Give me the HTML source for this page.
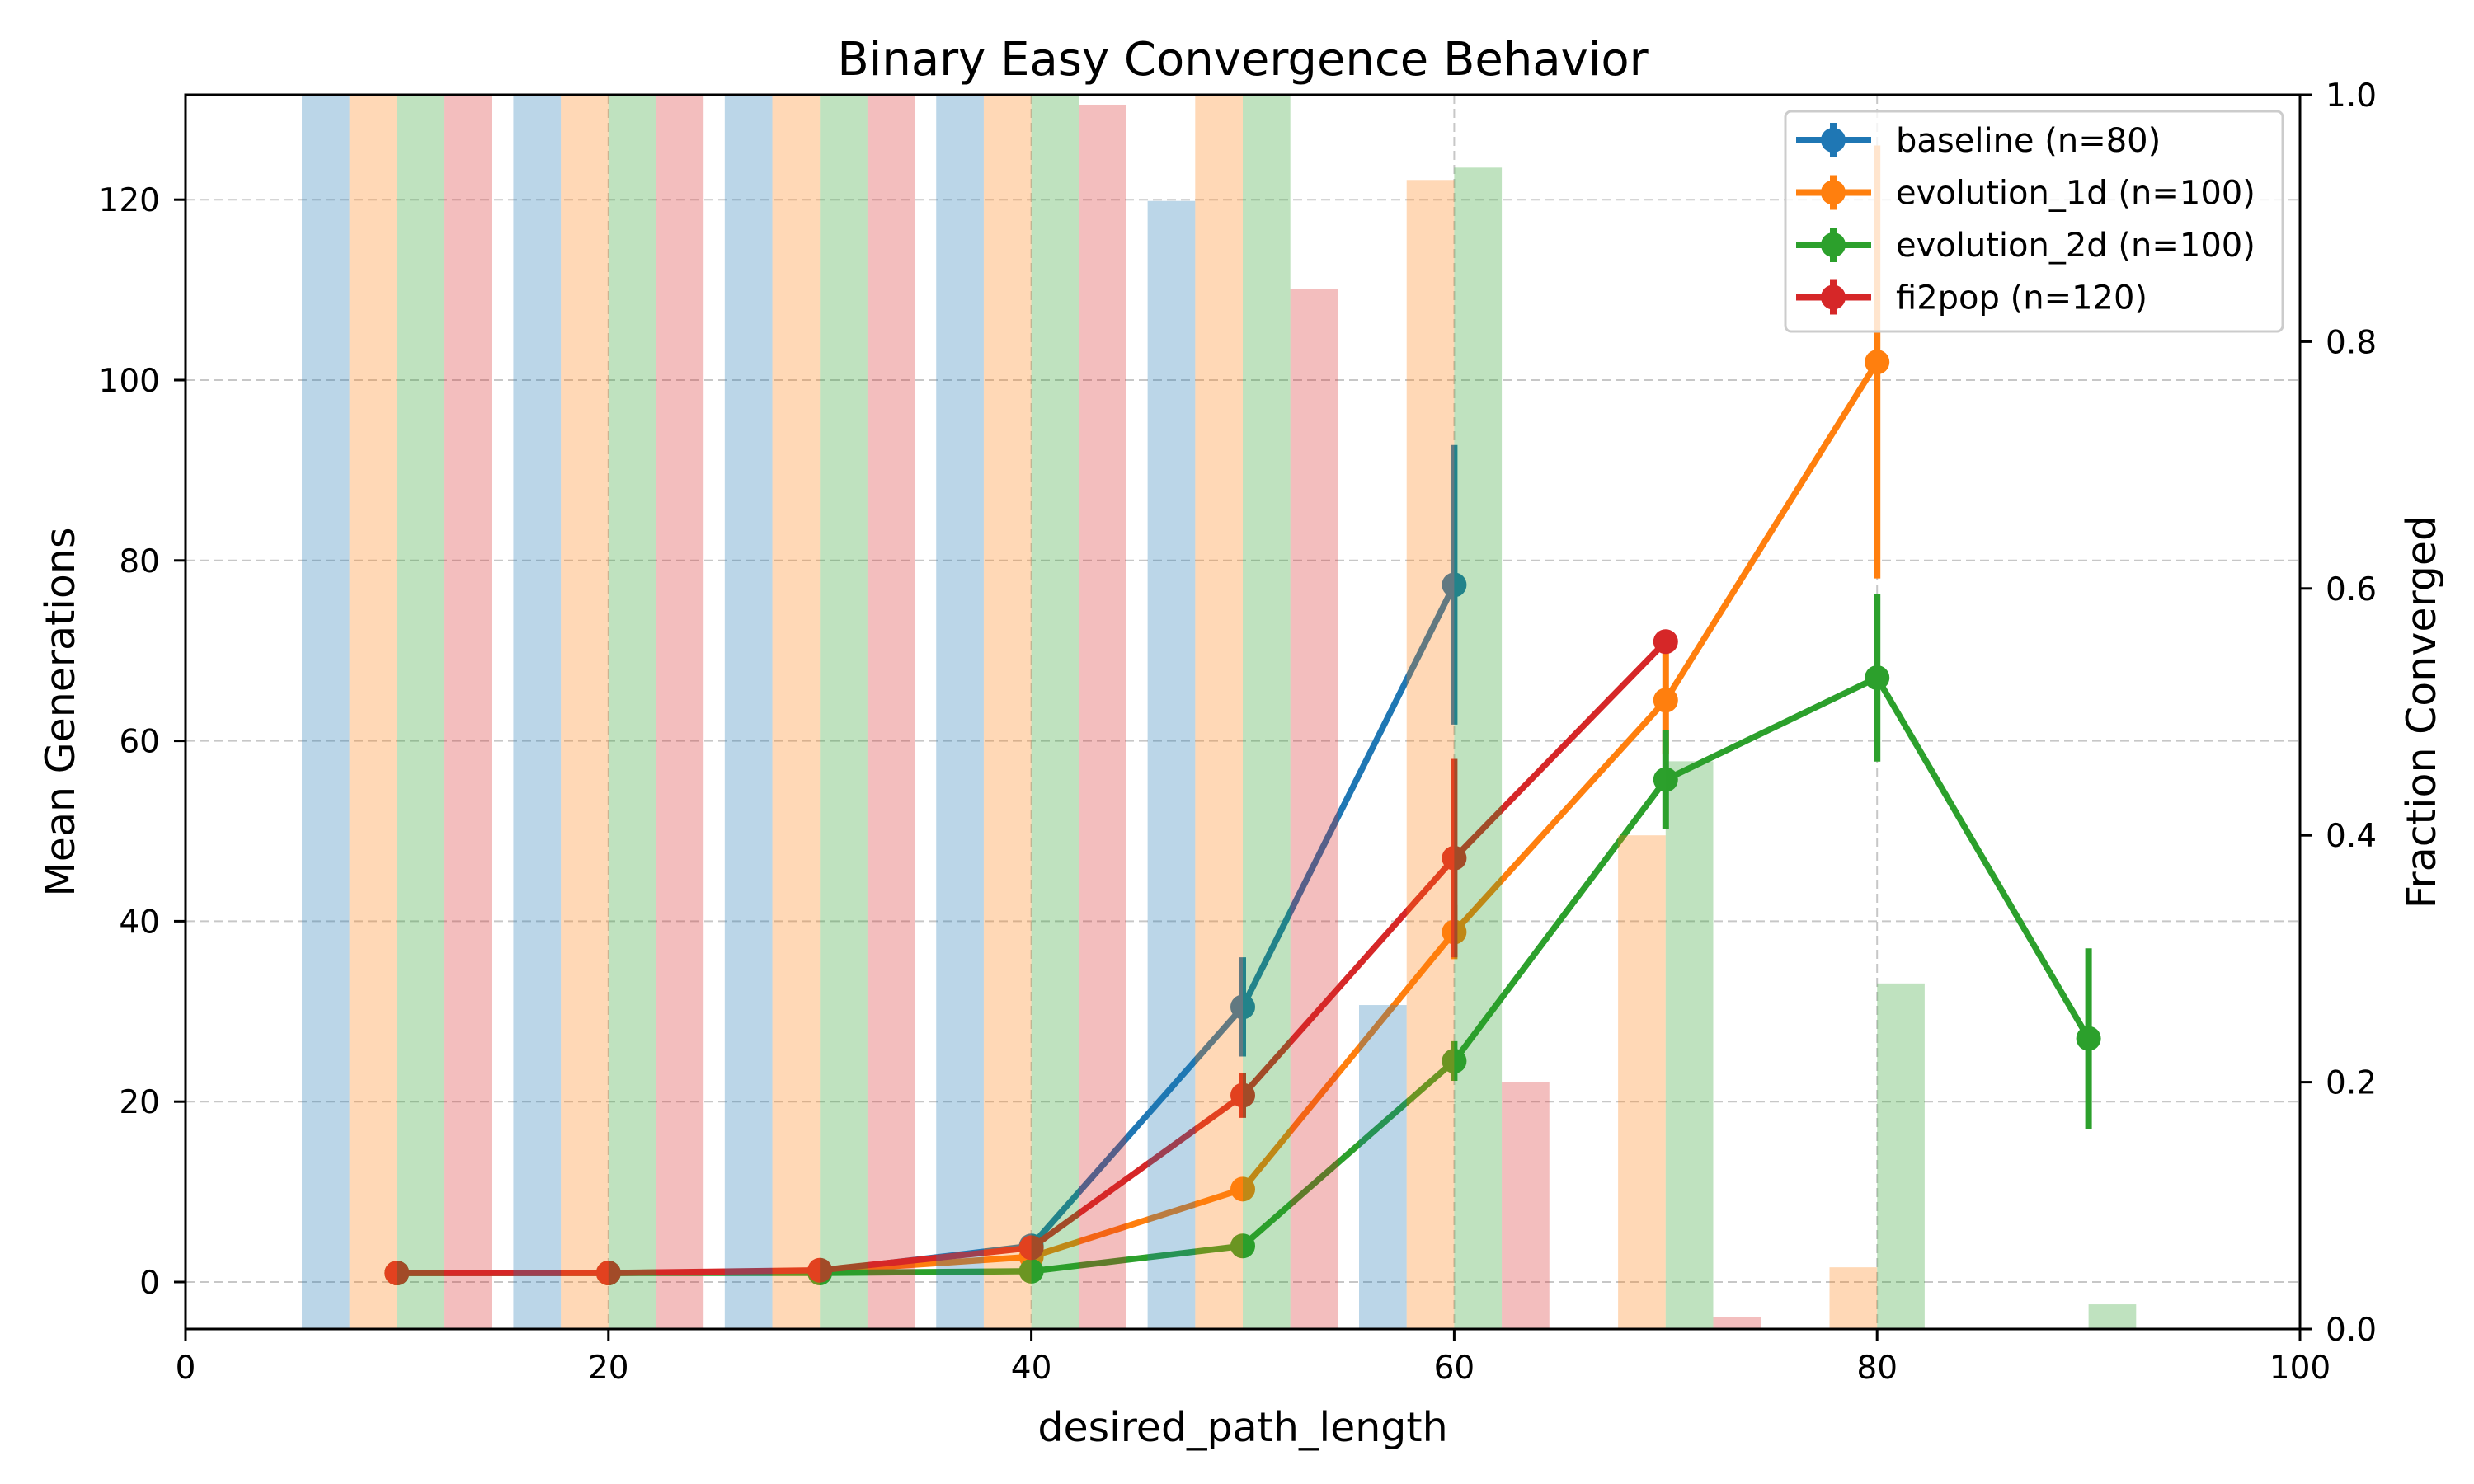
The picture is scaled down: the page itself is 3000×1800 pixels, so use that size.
<!DOCTYPE html>
<html><head><meta charset="utf-8">
<style>
html,body{margin:0;padding:0;background:#fff;}
svg{display:block;font-family:"DejaVu Sans","Liberation Sans",sans-serif;}
</style></head>
<body>
<svg id="chart" width="3000" height="1800" viewBox="0 0 3000 1800"></svg>
<script>
const xCats = [10,20,30,40,50,60,70,80,90];
const seriesNames = ["baseline (n=80)","evolution_1d (n=100)","evolution_2d (n=100)","fi2pop (n=120)"];
const seriesKeys = ["baseline","evolution-1d","evolution-2d","fi2pop"];
const colors = ["#1f77b4","#ff7f0e","#2ca02c","#d62728"];
// fraction converged (bars), null = no bar
const fracBaseline = [1,1,1,1,0.914,0.2625,0,0,null];
const fracEvo1d    = [1,1,1,1,1,0.931,0.40,0.05,null];
const fracEvo2d    = [1,1,1,1,1,0.941,0.46,0.28,0.02];
const fracFi2pop   = [1,1,1,0.992,0.8425,0.2,0.01,0,null];
// mean generations (lines)
const genX_baseline = [10,20,30,40,50,60];
const gen_baseline  = [1,1,1.2,4,30.5,77.3];
const err_baseline  = [0.3,0.3,0.3,0.6,5.5,15.5];
const genX_evo1d = [10,20,30,40,50,60,70,80];
const gen_evo1d  = [1,1,1.2,2.8,10.3,38.8,64.5,102];
const err_evo1d  = [0.3,0.3,0.3,0.5,1.2,3,6,24];
const genX_evo2d = [10,20,30,40,50,60,70,80,90];
const gen_evo2d  = [1,1,1,1.2,4,24.5,55.7,67,27];
const err_evo2d  = [0.3,0.3,0.3,0.3,0.6,2.2,5.5,9.3,10];
const genX_fi2pop = [10,20,30,40,50,60,70];
const gen_fi2pop  = [1,1,1.3,3.8,20.7,47,71];
const err_fi2pop  = [0.3,0.3,0.3,0.6,2.5,11,0.5];
const xTicks = [0,20,40,60,80,100];
const yTicks = [0,20,40,60,80,100,120];
const y2Ticks = [0,0.2,0.4,0.6,0.8,1.0];

const L=225,R=2789,T=115,B=1612;
const Y0=1555, YPU=10.94;
const sx=v=>L+(v/100)*(R-L);
const sy=v=>Y0-v*YPU;
const sy2=v=>B-v*(B-T);
const NS="http://www.w3.org/2000/svg";
const svg=document.getElementById('chart');
function mk(tag,attrs,parent){const e=document.createElementNS(NS,tag);for(const k in attrs)e.setAttribute(k,attrs[k]);(parent||svg).appendChild(e);return e;}

const defs=mk('defs',{});
const cp=mk('clipPath',{id:'plotclip'},defs);
mk('rect',{x:L,y:T,width:R-L,height:B-T},cp);

const grid=mk('g',{});


xTicks.forEach(t=>{if(t>0&&t<100){const l=mk('line',{x1:sx(t),x2:sx(t),y1:T,y2:B,stroke:'#b0b0b0','stroke-width':2,'stroke-dasharray':'11,6',opacity:0.7},grid);

}});
yTicks.forEach(t=>{const l=mk('line',{x1:L,x2:R,y1:sy(t),y2:sy(t),stroke:'#b0b0b0','stroke-width':2,'stroke-dasharray':'11,6',opacity:0.7},grid);

});

const lineG=mk('g',{'clip-path':'url(#plotclip)'});
const lineData=[[genX_baseline,gen_baseline,err_baseline],[genX_evo1d,gen_evo1d,err_evo1d],[genX_evo2d,gen_evo2d,err_evo2d],[genX_fi2pop,gen_fi2pop,err_fi2pop]];
lineData.forEach((d,i)=>{
  const g=mk('g',{},lineG);
  
  
  const pts=d[0].map((x,j)=>sx(x)+','+sy(d[1][j])).join(' ');
  const pl=mk('polyline',{points:pts,fill:'none',stroke:colors[i],'stroke-width':7.5,'stroke-linejoin':'round'},g);
  
  
  d[0].forEach((x,j)=>{
    const e=mk('line',{x1:sx(x),x2:sx(x),y1:sy(d[1][j]-d[2][j]),y2:sy(d[1][j]+d[2][j]),stroke:colors[i],'stroke-width':8},g);
    
    
    const c=mk('circle',{cx:sx(x),cy:sy(d[1][j]),r:15,fill:colors[i]},g);
    
    
  });
});

const barG=mk('g',{'clip-path':'url(#plotclip)'});
const fracs=[fracBaseline,fracEvo1d,fracEvo2d,fracFi2pop];
const bw=2.25;
fracs.forEach((arr,i)=>{
  arr.forEach((v,j)=>{
    if(v===null||v===0)return;
    const x0=xCats[j]+(i-2)*bw;
    const r=mk('rect',{x:sx(x0),y:sy2(v),width:sx(x0+bw)-sx(x0),height:B-sy2(v),fill:colors[i],'fill-opacity':0.3},barG);
    
    
  });
});

const fr=mk('rect',{x:L,y:T,width:R-L,height:B-T,fill:'none',stroke:'#000','stroke-width':3});



xTicks.forEach(t=>{
  mk('line',{x1:sx(t),x2:sx(t),y1:B,y2:B+14,stroke:'#000','stroke-width':3});
  const tx=mk('text',{x:sx(t),y:1672,'font-size':39,'text-anchor':'middle'});tx.textContent=t;
  
  
});
yTicks.forEach(t=>{
  mk('line',{x1:L-14,x2:L,y1:sy(t),y2:sy(t),stroke:'#000','stroke-width':3});
  const tx=mk('text',{x:194,y:sy(t)+14,'font-size':39,'text-anchor':'end'});tx.textContent=t;
  
  
});
y2Ticks.forEach(t=>{
  mk('line',{x1:R,x2:R+14,y1:sy2(t),y2:sy2(t),stroke:'#000','stroke-width':3});
  const tx=mk('text',{x:2820,y:sy2(t)+14,'font-size':39,'text-anchor':'start'});tx.textContent=t.toFixed(1);
  
  
});

let t=mk('text',{x:(L+R)/2,y:91,'font-size':56,'text-anchor':'middle'});t.textContent='Binary Easy Convergence Behavior';


t=mk('text',{x:(L+R)/2,y:1748,'font-size':49,'text-anchor':'middle'});t.textContent='desired_path_length';


t=mk('text',{x:0,y:0,'font-size':49,'text-anchor':'middle',transform:'translate(90,'+((T+B)/2)+') rotate(-90)'});t.textContent='Mean Generations';


t=mk('text',{x:0,y:0,'font-size':49,'text-anchor':'middle',transform:'translate(2953,'+((T+B)/2)+') rotate(-90)'});t.textContent='Fraction Converged';



const lg=mk('g',{});


mk('rect',{x:2165,y:135,width:603,height:267,rx:7,fill:'#fff','fill-opacity':0.8,stroke:'#cccccc','stroke-width':3},lg);
seriesNames.forEach((n,i)=>{
  const y=170+i*63.5;
  const e=mk('g',{},lg);
  
  
  mk('line',{x1:2178,x2:2269,y1:y,y2:y,stroke:colors[i],'stroke-width':8},e);
  mk('line',{x1:2223,x2:2223,y1:y-21,y2:y+21,stroke:colors[i],'stroke-width':8},e);
  mk('circle',{cx:2223,cy:y,r:15,fill:colors[i]},e);
  const tx=mk('text',{x:2299,y:y+14,'font-size':40},e);tx.textContent=n;
});
</script>
</body></html>
